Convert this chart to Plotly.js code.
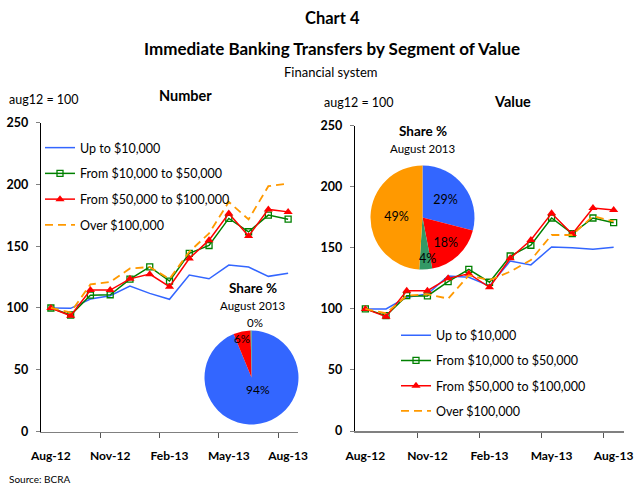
<!DOCTYPE html>
<html><head><meta charset="utf-8">
<script src="https://cdn.plot.ly/plotly-3.0.1.min.js"></script>
<style>html,body{margin:0;padding:0;background:#fff}#chart{width:634px;height:487px}</style>
</head><body><div id="chart"></div>
<script>
const months = ["Aug-12","Sep-12","Oct-12","Nov-12","Dec-12","Jan-13","Feb-13","Mar-13","Apr-13","May-13","Jun-13","Jul-13","Aug-13"];
const tickMonths = ["Aug-12","Nov-12","Feb-13","May-13","Aug-13"];
const seriesNames = ["Up to $10,000","From $10,000 to $50,000","From $50,000 to $100,000","Over $100,000"];

// Number (aug12 = 100)
const numUpTo10k   = [100, 99.7, 107.2, 109.9, 117.7, 111.8, 107.0, 126.6, 123.6, 134.7, 133.1, 125.6, 128.2];
const num10kTo50k  = [100, 94.3, 110.4, 110.7, 123.4, 133.3, 121.8, 144.2, 150.6, 172.5, 161.7, 175.2, 171.9];
const num50kTo100k = [100, 93.7, 114.5, 114.5, 123.6, 127.4, 117.2, 140.1, 154.9, 176.5, 158.2, 179.8, 177.8];
const numOver100k  = [100, 96.4, 119.1, 121.0, 132.0, 133.1, 123.5, 145.5, 160.4, 185.9, 171.7, 198.6, 200.8];

// Value (aug12 = 100)
const valUpTo10k   = [100, 99.9, 109.5, 112.2, 126.9, 125.9, 118.8, 139.2, 136.0, 150.7, 150.1, 148.8, 150.4];
const val10kTo50k  = [100, 94.4, 110.8, 110.6, 122.3, 132.4, 121.8, 143.3, 152.1, 174.4, 161.6, 174.4, 170.6];
const val50kTo100k = [100, 93.6, 114.9, 114.9, 125.0, 128.8, 117.7, 141.4, 156.4, 178.3, 161.3, 182.6, 181.0];
const valOver100k  = [100, 96.4, 110.8, 112.0, 108.4, 127.5, 123.5, 130.5, 140.0, 160.5, 160.5, 176.0, 171.7];

// Share %, August 2013
const shareNumber = [93.8, 5.9, 0.3, 0.0];
const shareValue  = [29.0, 18.0, 4.0, 49.0];

const W = 634, H = 487;
const px = v => v / W;
const py = v => 1 - v / H;

const lineColors = ["#3366FF", "#008000", "#FF0000", "#FF9900"];
const pieColors = ["#3366FF", "#FF0000", "#339966", "#FF9900"];
const FONT = "Lato, 'Open Sans', sans-serif";

const idx = months.map((m, i) => i);
const tickIdx = tickMonths.map(m => months.indexOf(m));
const pct = (arr, i) => {
  const tot = arr.reduce((a, b) => a + b, 0);
  return Math.round(arr[i] / tot * 100) + "%";
};

function lineTraces(vals, xa, ya, leg) {
  const styles = [
    {line:{color:lineColors[0], width:1.5}, mode:"lines"},
    {line:{color:lineColors[1], width:1.5}, mode:"lines+markers", marker:{symbol:"square-open", size:6, color:lineColors[1], line:{width:1.3}}},
    {line:{color:lineColors[2], width:1.5}, mode:"lines+markers", marker:{symbol:"triangle-up", size:8, color:lineColors[2]}},
    {line:{color:lineColors[3], width:1.8, dash:"8px,5px"}, mode:"lines"}
  ];
  return vals.map((v, k) => Object.assign({
    type:"scatter", x: idx, y: v, name: seriesNames[k], xaxis: xa, yaxis: ya,
    legend: leg, legendgroup: leg + k, hoverinfo:"skip"
  }, styles[k]));
}

const traces = [
  ...lineTraces([numUpTo10k, num10kTo50k, num50kTo100k, numOver100k], "x", "y", "legend"),
  ...lineTraces([valUpTo10k, val10kTo50k, val50kTo100k, valOver100k], "x2", "y2", "legend2"),
  {
    type:"pie", values: shareNumber, labels: seriesNames, sort:false, direction:"clockwise", rotation:0,
    marker:{colors: pieColors, line:{width:0}}, showlegend:false,
    textposition:"none",
    domain:{x:[px(204.5), px(298.5)], y:[py(424.5), py(330.5)]}, hoverinfo:"skip"
  },
  {
    type:"pie", values: shareValue, labels: seriesNames, sort:false, direction:"clockwise", rotation:0,
    marker:{colors: pieColors, line:{width:0}}, showlegend:false,
    texttemplate:"%{percent:.0%}", textposition:["inside","inside","none","inside"],
    textfont:{family:FONT, size:12.5, color:"#000"}, insidetextorientation:"horizontal",
    domain:{x:[px(370.5), px(474.5)], y:[py(269.5), py(165.5)]}, hoverinfo:"skip"
  }
];

function xAxis(domain, anchor) {
  return {
    domain: domain, anchor: anchor, range:[-0.5, 12.5], tickmode:"array",
    tickvals: tickIdx, ticktext: tickMonths, ticks:"", showgrid:false, zeroline:false,
    showline:true, linecolor:"#808080", linewidth:1.5,
    tickfont:{family:FONT, size:12, color:"#000", weight:"bold"}, ticklabelstandoff:13,
    minor:{tickmode:"array", tickvals:[2.5,5.5,8.5,11.5], ticks:"outside", ticklen:5, tickcolor:"#555", tickwidth:1}
  };
}
function yAxis(domain, anchor) {
  return {
    domain: domain, anchor: anchor, range:[0, 250], tickmode:"array", tickvals:[0,50,100,150,200,250],
    ticks:"outside", ticklen:4, tickcolor:"#808080", showgrid:false, zeroline:false,
    showline:true, linecolor:"#000", linewidth:1.2,
    tickfont:{family:FONT, size:12.5, color:"#000", weight:"bold"}, ticklabelstandoff:5
  };
}

function ann(text, x, y, size, bold, xanchor) {
  return {text: bold ? "<b>" + text + "</b>" : text, x: px(x), y: py(y), xref:"paper", yref:"paper",
    xanchor: xanchor || "center", yanchor:"middle", showarrow:false,
    font:{family:FONT, size:size, color:"#000"}};
}

const layout = {
  width: W, height: H, margin:{l:0, r:0, t:0, b:0}, paper_bgcolor:"#fff", plot_bgcolor:"rgba(0,0,0,0)",
  font:{family:FONT, color:"#000"},
  xaxis: xAxis([px(41), px(298)], "y"),
  yaxis: yAxis([py(431.5), py(122.7)], "x"),
  xaxis2: xAxis([px(355), px(624)], "y2"),
  yaxis2: yAxis([py(431), py(125.7)], "x2"),
  legend: {x: px(40), y: py(133), xanchor:"left", yanchor:"top", bgcolor:"rgba(0,0,0,0)",
    font:{family:FONT, size:12.5, color:"#000"}, tracegroupgap:6.5, itemwidth:30},
  legend2: {x: px(396), y: py(320.5), xanchor:"left", yanchor:"top", bgcolor:"rgba(0,0,0,0)",
    font:{family:FONT, size:12.5, color:"#000"}, tracegroupgap:6, itemwidth:30},
  annotations: [
    ann("Chart 4", 333, 18, 16.5, true),
    ann("Immediate Banking Transfers by Segment of Value", 332, 49, 17, true),
    ann("Financial system", 331, 72, 13, false),
    ann("Number", 185, 95, 14.5, true),
    ann("Value", 512, 101, 14.5, true),
    ann("aug12 = 100", 7, 100, 12.5, false, "left"),
    ann("aug12 = 100", 322, 102, 12.5, false, "left"),
    ann("Share %", 253, 288, 13.5, true),
    ann("August 2013", 253, 305, 11.5, false),
    ann("Share %", 423, 131, 13.5, true),
    ann("August 2013", 423, 148, 11.5, false),
    ann("Source: BCRA", 7, 479, 10, false, "left"),
    // pie labels (text computed from the share data)
    ann(pct(shareNumber, 0), 258, 389, 12, false),
    ann(pct(shareNumber, 1), 242, 338, 11.5, false),
    ann(pct(shareNumber, 2), 255, 322.5, 11.5, false),
    ann(pct(shareValue, 2), 427, 258, 12.5, false)
  ]
};

Plotly.newPlot("chart", traces, layout, {staticPlot:true, displayModeBar:false});
</script></body></html>
